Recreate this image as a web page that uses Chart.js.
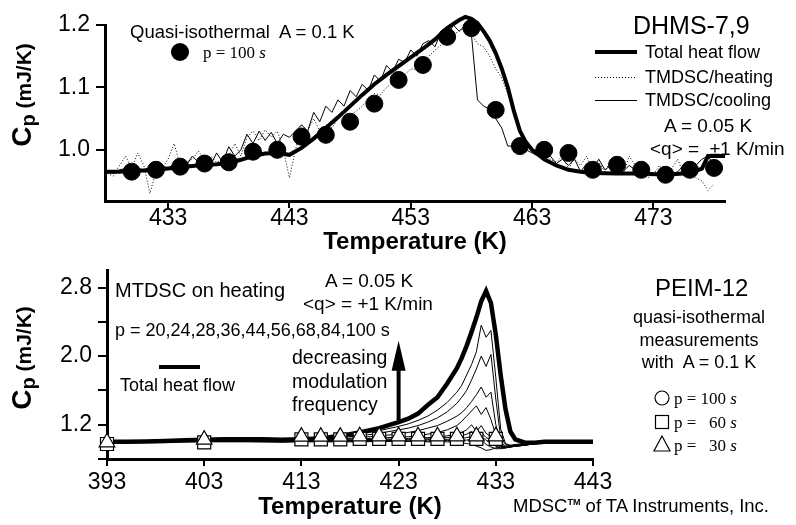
<!DOCTYPE html>
<html>
<head>
<meta charset="utf-8">
<title>Heat capacity of DHMS-7,9 and PEIM-12</title>
<script src="https://cdn.jsdelivr.net/npm/chart.js"></script>
<style>
  body { margin: 0; background: #fff; }
  #fig { position: relative; width: 796px; height: 525px; overflow: hidden; background: #fff;
         font-family: "Liberation Sans", Arial, sans-serif; color: #000; }
  #fig canvas { position: absolute; left: 0; }
  #top { top: 0; }
  #bot { top: 260px; }
  .t { position: absolute; white-space: nowrap; line-height: 1; transform: translateY(-50%); }
  .c { transform: translate(-50%, -50%); text-align: center; }
  .serif { font-family: "Liberation Serif", "Times New Roman", serif; }
  .ytitle { position: absolute; white-space: nowrap; font-weight: bold; line-height: 1;
            transform: translate(-50%, -50%) rotate(-90deg); }
  .ytitle .big { font-size: 28px; }
  .ytitle sub { font-size: 20px; vertical-align: -4px; }
  .ytitle .unit { font-size: 21px; }
</style>
</head>
<body>
<div id="fig">
  <canvas id="top" width="796" height="260"></canvas>
  <canvas id="bot" width="796" height="265"></canvas>

  <!-- top panel texts -->
  <div class="ytitle" style="left:23px; top:95px;"><span class="big">C</span><sub>p</sub><span class="unit"> (mJ/K)</span></div>
  <div class="t" style="left:130px; top:32px; font-size:18.5px;">Quasi-isothermal&nbsp; A = 0.1 K</div>
  <div class="t serif" style="left:203px; top:52px; font-size:17px;">p = 100 <i>s</i></div>
  <div class="t" style="left:633px; top:25px; font-size:25px;">DHMS-7,9</div>
  <div class="t" style="left:645px; top:52px; font-size:18px;">Total heat flow</div>
  <div class="t" style="left:645px; top:77px; font-size:18px;">TMDSC/heating</div>
  <div class="t" style="left:645px; top:100px; font-size:18px;">TMDSC/cooling</div>
  <div class="t" style="left:664px; top:125px; font-size:19px;">A = 0.05 K</div>
  <div class="t" style="left:650px; top:148px; font-size:19px;">&lt;q&gt; = &nbsp;±1 K/min</div>

  <!-- bottom panel texts -->
  <div class="ytitle" style="left:23px; top:358px;"><span class="big">C</span><sub>p</sub><span class="unit"> (mJ/K)</span></div>
  <div class="t" style="left:115px; top:290px; font-size:20px;">MTDSC on heating</div>
  <div class="t" style="left:325px; top:280px; font-size:19px;">A = 0.05 K</div>
  <div class="t" style="left:303px; top:303px; font-size:19px;">&lt;q&gt; = +1 K/min</div>
  <div class="t" style="left:115px; top:330px; font-size:18px;">p = 20,24,28,36,44,56,68,84,100 s</div>
  <div class="t" style="left:292px; top:381px; font-size:19.5px; line-height:23.5px;">decreasing<br>modulation<br>frequency</div>
  <div class="t" style="left:120px; top:385px; font-size:18px;">Total heat flow</div>
  <div class="t" style="left:655px; top:288px; font-size:24px;">PEIM-12</div>
  <div class="t c" style="left:699px; top:340px; font-size:18px; line-height:22.5px;">quasi-isothermal<br>measurements<br>with&nbsp; A = 0.1 K</div>
  <div class="t serif" style="left:674px; top:398px; font-size:17px;">p = 100 <i>s</i></div>
  <div class="t serif" style="left:674px; top:422px; font-size:17px;">p = &nbsp;&nbsp;60 <i>s</i></div>
  <div class="t serif" style="left:674px; top:445px; font-size:17px;">p = &nbsp;&nbsp;30 <i>s</i></div>
  <div class="t" style="left:513px; top:506px; font-size:18.5px;">MDSC<sup style="font-size:9px; font-weight:bold;">TM</sup> of TA Instruments, Inc.</div>
</div>

<script>
// ---- top panel: DHMS-7,9 ----
const topTemp = [
  428, 428.5, 429, 429.5, 430, 430.5, 431, 431.5, 432, 432.5,
  433, 433.5, 434, 434.5, 435, 435.5, 436, 436.5, 437, 437.5,
  438, 438.5, 439, 439.5, 440, 440.5, 441, 441.5, 442, 442.5,
  443, 443.5, 444, 444.5, 445, 445.5, 446, 446.5, 447, 447.5,
  448, 448.5, 449, 449.5, 450, 450.5, 451, 451.5, 452, 452.5,
  453, 453.5, 454, 454.5, 455, 455.5, 456, 456.5, 457, 457.5,
  458, 458.5, 459, 459.5, 460, 460.5, 461, 461.5, 462, 462.5,
  463, 463.5, 464, 464.5, 465, 465.5, 466, 466.5, 467, 467.5,
  468, 468.5, 469, 469.5, 470, 470.5, 471, 471.5, 472, 472.5,
  473, 473.5, 474, 474.5, 475, 475.5, 476, 476.5, 477, 477.5,
  478
];

const heatingCp = [
  0.962, 0.958, 0.975, 0.990, 0.970, 0.995, 0.975, 0.930, 0.965, 0.970,
  0.985, 1.010, 0.975, 0.980, 0.985, 0.998, 0.985, 0.990, 0.980, 0.985,
  0.990, 1.010, 0.990, 1.020, 1.030, 1.015, 1.032, 1.020, 1.030, 1.000,
  0.955, 1.000, 1.040, 1.030, 1.050, 1.030, 1.040, 1.035, 1.050, 1.060,
  1.055, 1.062, 1.070, 1.082, 1.090, 1.088, 1.100, 1.108, 1.115, 1.120,
  1.130, 1.128, 1.140, 1.150, 1.160, 1.168, 1.175, 1.185, 1.190, 1.195,
  1.185, 1.170, 1.165, 1.150, 1.130, 1.115, 1.090, 1.070, 1.035, 1.015,
  1.000, 0.995, 0.990, 0.985, 0.980, 0.990, 0.970, 0.985, 0.975, 0.990,
  0.960, 0.980, 0.965, 0.985, 0.970, 0.960, 0.990, 0.975, 0.965, 0.955,
  0.960, 0.975, 0.960, 0.970, 0.985, 0.960, 0.970, 0.955, 0.950, 0.935,
  0.945
];

const coolingCp = [
  0.965, 0.962, 0.968, 0.970, 0.965, 0.970, 0.968, 0.972, 0.965, 0.975,
  0.970, 0.978, 0.980, 0.975, 0.990, 0.980, 0.985, 0.975, 0.995, 0.980,
  1.005, 0.990, 1.000, 1.025, 1.010, 1.030, 1.015, 1.028, 1.010, 1.025,
  1.020, 1.030, 1.040, 1.030, 1.060, 1.045, 1.070, 1.060, 1.080, 1.070,
  1.095, 1.085, 1.105, 1.095, 1.120, 1.110, 1.135, 1.125, 1.145, 1.140,
  1.160, 1.150, 1.170, 1.175, 1.165, 1.190, 1.180, 1.200, 1.190, 1.200,
  1.185, 1.080, 1.070, 1.065, 1.050, 1.035, 1.006, 1.006, 1.003, 1.000,
  0.995, 0.990, 0.985, 0.990, 0.978, 0.985, 0.975, 0.985, 0.965, 0.978,
  0.970, 0.985, 0.968, 0.975, 0.985, 0.965, 0.975, 0.968, 0.980, 0.962,
  0.960, 0.965, 0.970, 0.960, 0.965, 0.975, 0.968, 0.975, 0.985, 0.990,
  0.975
];

const totalTemp = [
  427.8, 429, 430, 431, 432, 433, 434, 435, 436, 437,
  438, 439, 440, 441, 442, 443, 444, 445, 446, 447,
  448, 449, 450, 451, 452, 453, 454, 455, 456, 457,
  457.5, 458, 458.5, 459, 459.5, 460, 460.5, 461, 461.5, 462,
  462.5, 463, 464, 465, 466, 467, 468, 470, 472, 474,
  476, 477, 477.5, 478.9
];
const totalCp = [
  0.965, 0.965, 0.966, 0.967, 0.968, 0.970, 0.972, 0.974, 0.976, 0.977,
  0.979, 0.984, 0.990, 0.994, 0.995, 0.992, 1.003, 1.018, 1.035, 1.052,
  1.070, 1.088, 1.105, 1.120, 1.134, 1.148, 1.162, 1.177, 1.195, 1.208,
  1.213, 1.210, 1.203, 1.190, 1.175, 1.155, 1.130, 1.100, 1.062, 1.030,
  1.012, 1.000, 0.985, 0.975, 0.968, 0.965, 0.963, 0.962, 0.962, 0.960,
  0.963, 0.970, 0.990, 0.990
];

// quasi-isothermal, p = 100 s
const qiTemp = [430, 432, 434, 436, 438, 440, 442, 444, 446, 448, 450, 452, 454,
                456, 458, 460, 462, 464, 466, 468, 470, 472, 474, 476, 478];
const qiCp = [0.965, 0.968, 0.973, 0.978, 0.980, 0.997, 1.000, 1.021, 1.024, 1.045, 1.074, 1.112, 1.136,
              1.181, 1.195, 1.064, 1.006, 1.000, 0.995, 0.968, 0.976, 0.968, 0.960, 0.968, 0.971];

const topTicksX = [433, 443, 453, 463, 473];
const topTicksY = [1.0, 1.1, 1.2];

// ---- bottom panel: PEIM-12 ----
const botTemp = [
  393, 395, 397, 399, 401, 403, 405, 407, 409, 411, 413,
  415, 417, 419, 421, 423,
  424, 425, 426, 427, 428, 429,
  429.5, 430, 430.5, 431, 431.5, 432, 432.5, 433, 433.5, 434, 434.5, 435,
  436, 437, 438, 440, 443
];
const botTotalCp = [
  1.00, 1.00, 1.005, 1.01, 1.02, 1.025, 1.03, 1.03, 1.03, 1.025, 1.03,
  1.04, 1.07, 1.11, 1.16, 1.23,
  1.27, 1.33, 1.43, 1.52, 1.68, 1.86,
  1.98, 2.12, 2.28, 2.45, 2.64, 2.76, 2.62, 2.25, 1.78, 1.38, 1.12, 1.03,
  0.99, 0.99, 1.00, 1.00, 1.00
];

// MTDSC on heating, one curve per period p (s)
const mtdsc100 = [
  1.00, 1.00, 1.00, 1.01, 1.02, 1.03, 1.03, 1.03, 1.02, 1.02, 1.03,
  1.04, 1.06, 1.09, 1.13, 1.18,
  1.21, 1.25, 1.30, 1.37, 1.46, 1.58,
  1.66, 1.78, 1.90, 2.05, 2.36, 2.22, 2.30, 1.75, 1.15, 0.98, 0.96, 0.96,
  0.97, 0.99, 1.00, 1.00, 1.00
];
const mtdsc84 = [
  1.00, 1.00, 1.005, 1.01, 1.02, 1.025, 1.03, 1.03, 1.02, 1.02, 1.025,
  1.03, 1.05, 1.07, 1.10, 1.14,
  1.16, 1.19, 1.23, 1.28, 1.35, 1.45,
  1.52, 1.60, 1.72, 1.85, 2.00, 1.88, 2.02, 1.50, 1.05, 0.97, 0.95, 0.95,
  0.96, 0.98, 1.00, 1.00, 1.00
];
const mtdsc68 = [
  1.00, 0.995, 1.00, 1.005, 1.015, 1.02, 1.025, 1.025, 1.02, 1.015, 1.02,
  1.025, 1.035, 1.05, 1.07, 1.09,
  1.11, 1.13, 1.16, 1.19, 1.24, 1.30,
  1.34, 1.40, 1.47, 1.55, 1.64, 1.52, 1.58, 1.20, 1.00, 0.95, 0.94, 0.95,
  0.96, 0.98, 0.99, 1.00, 1.00
];
const mtdsc56 = [
  1.00, 1.00, 1.00, 1.005, 1.01, 1.02, 1.02, 1.02, 1.015, 1.015, 1.02,
  1.02, 1.03, 1.035, 1.045, 1.055,
  1.06, 1.07, 1.09, 1.11, 1.14, 1.19,
  1.24, 1.30, 1.36, 1.42, 1.32, 1.40, 1.26, 1.08, 0.97, 0.94, 0.94, 0.95,
  0.96, 0.98, 0.99, 1.00, 1.00
];
const mtdsc44 = [
  0.995, 1.00, 1.00, 1.00, 1.01, 1.015, 1.02, 1.02, 1.015, 1.01, 1.015,
  1.015, 1.02, 1.025, 1.03, 1.035,
  1.04, 1.045, 1.05, 1.055, 1.07, 1.09,
  1.11, 1.14, 1.20, 1.12, 1.19, 1.10, 1.06, 0.99, 0.95, 0.93, 0.94, 0.95,
  0.96, 0.98, 0.99, 1.00, 1.00
];
const mtdsc36 = [
  1.00, 1.00, 0.995, 1.00, 1.005, 1.01, 1.015, 1.015, 1.01, 1.01, 1.01,
  1.01, 1.015, 1.02, 1.02, 1.025,
  1.03, 1.03, 1.035, 1.04, 1.05, 1.06,
  1.07, 1.09, 1.12, 1.08, 1.11, 1.05, 1.02, 0.97, 0.94, 0.93, 0.94, 0.95,
  0.97, 0.98, 0.99, 1.00, 1.00
];
const mtdsc28 = [
  0.995, 0.995, 1.00, 1.00, 1.005, 1.01, 1.01, 1.01, 1.005, 1.005, 1.01,
  1.01, 1.01, 1.015, 1.015, 1.02,
  1.02, 1.02, 1.025, 1.025, 1.03, 1.035,
  1.04, 1.05, 1.06, 1.04, 1.06, 1.02, 0.98, 0.95, 0.93, 0.93, 0.95, 0.96,
  0.97, 0.98, 0.99, 1.00, 1.00
];
const mtdsc24 = [
  0.995, 0.995, 0.995, 1.00, 1.00, 1.005, 1.005, 1.005, 1.00, 1.00, 1.005,
  1.005, 1.005, 1.01, 1.01, 1.01,
  1.01, 1.01, 1.01, 1.015, 1.015, 1.02,
  1.02, 1.02, 1.03, 1.00, 1.02, 0.97, 0.94, 0.92, 0.92, 0.93, 0.95, 0.96,
  0.97, 0.98, 0.99, 1.00, 1.00
];
const mtdsc20 = [
  0.99, 0.99, 0.995, 0.995, 1.00, 1.00, 1.00, 1.00, 1.00, 0.995, 1.00,
  1.00, 1.00, 1.00, 1.005, 1.005,
  1.005, 1.005, 1.00, 1.00, 1.00, 0.995,
  0.99, 0.98, 0.97, 0.95, 0.93, 0.90, 0.91, 0.93, 0.94, 0.95, 0.96, 0.97,
  0.98, 0.99, 0.99, 1.00, 1.00
];
const mtdscCurves = [mtdsc20, mtdsc24, mtdsc28, mtdsc36, mtdsc44, mtdsc56, mtdsc68, mtdsc84, mtdsc100];

// quasi-isothermal measurements, A = 0.1 K
const qiBotTemp = [393, 403, 413, 415, 417, 419, 421, 423, 425, 427, 429, 431, 433];
const qi100Cp = [0.975, 0.995, 1.03, 1.03, 1.03, 1.035, 1.035, 1.035, 1.035, 1.035, 1.035, 1.035, 1.035];
const qi60Cp  = [0.975, 0.995, 1.03, 1.03, 1.03, 1.035, 1.035, 1.035, 1.035, 1.035, 1.035, 1.035, 1.035];
const qi30Cp  = [0.995, 1.025, 1.06, 1.06, 1.06, 1.065, 1.065, 1.065, 1.065, 1.065, 1.065, 1.065, 1.065];

const botTicksX = [393, 403, 413, 423, 433, 443];
const botTicksY = [0.8, 1.2, 1.6, 2.0, 2.4, 2.8];
const botLabelsY = [1.2, 2.0, 2.8];

// ---- helpers ----
const FONT = 'Liberation Sans';

function pts(xs, ys) {
  return xs.map((x, i) => ({x: x, y: ys[i]}));
}

function xAxis(min, max, ticks, height, labelPad) {
  return {
    type: 'linear', min: min, max: max,
    afterBuildTicks: s => { s.ticks = ticks.map(v => ({value: v})); },
    afterFit: s => { s.height = height; s.paddingLeft = 0; s.paddingRight = 0; },
    border: {display: true, color: '#000', width: 3},
    grid: {drawOnChartArea: false, color: '#000', lineWidth: 2, tickLength: 7},
    ticks: {color: '#000', font: {family: FONT, size: 23}, padding: labelPad, maxRotation: 0, autoSkip: false,
            callback: v => String(v)},
    title: {display: true, text: 'Temperature (K)', color: '#000',
            font: {family: FONT, size: 24, weight: 'bold'}, padding: {top: 0, bottom: 3}}
  };
}

function yAxis(min, max, ticks, labels, width) {
  return {
    type: 'linear', min: min, max: max,
    afterBuildTicks: s => { s.ticks = ticks.map(v => ({value: v})); },
    afterFit: s => { s.width = width; s.paddingTop = 0; s.paddingBottom = 0; },
    border: {display: true, color: '#000', width: 3},
    grid: {drawOnChartArea: false, color: '#000', lineWidth: 2, tickLength: 9},
    ticks: {color: '#000', font: {family: FONT, size: 23}, padding: 6, autoSkip: false,
            callback: v => labels.includes(v) ? v.toFixed(1) : ''}
  };
}

function line(ctx, x1, y1, x2, y2) {
  ctx.beginPath();
  ctx.moveTo(x1, y1);
  ctx.lineTo(x2, y2);
  ctx.stroke();
}

// legend samples for the top panel
const topDecor = {
  id: 'topDecor',
  afterDraw(chart) {
    const ctx = chart.ctx;
    ctx.save();
    ctx.strokeStyle = '#000';
    ctx.fillStyle = '#000';
    ctx.lineWidth = 4;
    line(ctx, 595, 52, 637, 52);
    ctx.lineWidth = 1;
    ctx.setLineDash([1, 2]);
    line(ctx, 595, 77.5, 637, 77.5);
    ctx.setLineDash([]);
    line(ctx, 595, 100.5, 637, 100.5);
    ctx.beginPath();
    ctx.arc(180, 52, 9, 0, Math.PI * 2);
    ctx.fill();
    ctx.restore();
  }
};

// legend samples and arrow for the bottom panel
const botDecor = {
  id: 'botDecor',
  afterDraw(chart) {
    const ctx = chart.ctx;
    const xs = chart.scales.x, ys = chart.scales.y;
    ctx.save();
    ctx.strokeStyle = '#000';
    ctx.fillStyle = '#000';
    ctx.lineWidth = 4;
    line(ctx, 159, 107, 200, 107);

    // arrow: decreasing modulation frequency
    const ax = xs.getPixelForValue(423);
    const yTip = ys.getPixelForValue(2.18);
    const yEnd = ys.getPixelForValue(1.25);
    ctx.lineWidth = 4;
    line(ctx, ax, yEnd, ax, yTip + 20);
    ctx.beginPath();
    ctx.moveTo(ax, yTip);
    ctx.lineTo(ax - 7, yTip + 30);
    ctx.lineTo(ax + 7, yTip + 30);
    ctx.closePath();
    ctx.fill();

    // open markers
    ctx.lineWidth = 1.2;
    ctx.fillStyle = '#fff';
    ctx.beginPath();
    ctx.arc(662, 138, 7, 0, Math.PI * 2);
    ctx.stroke();
    ctx.strokeRect(655.5, 155.5, 13, 13);
    ctx.beginPath();
    ctx.moveTo(662, 176);
    ctx.lineTo(670, 191);
    ctx.lineTo(654, 191);
    ctx.closePath();
    ctx.stroke();
    ctx.restore();
  }
};

const common = {
  responsive: false,
  animation: false,
  plugins: {legend: {display: false}, tooltip: {enabled: false}}
};

// ---- top chart ----
new Chart(document.getElementById('top'), {
  type: 'scatter',
  data: {
    datasets: [
      {label: 'Quasi-isothermal p = 100 s', data: pts(qiTemp, qiCp), order: 0, clip: false,
       pointStyle: 'circle', pointRadius: 8.5, backgroundColor: '#000', borderColor: '#000', showLine: false},
      {label: 'Total heat flow', data: pts(totalTemp, totalCp), order: 1, clip: false,
       showLine: true, borderColor: '#000', borderWidth: 4, pointRadius: 0},
      {label: 'TMDSC/cooling', data: pts(topTemp, coolingCp), order: 2,
       showLine: true, borderColor: '#000', borderWidth: 1, pointRadius: 0},
      {label: 'TMDSC/heating', data: pts(topTemp, heatingCp), order: 3,
       showLine: true, borderColor: '#000', borderWidth: 1, borderDash: [1, 2], pointRadius: 0}
    ]
  },
  options: Object.assign({}, common, {
    layout: {padding: {left: 0, right: 71, top: 25, bottom: 0}},
    scales: {
      x: xAxis(427.8, 478.9, topTicksX, 59, -3),
      y: yAxis(0.918, 1.2, topTicksY, topTicksY, 105)
    }
  }),
  plugins: [topDecor]
});

// ---- bottom chart ----
const botSets = [
  {label: 'p = 30 s', data: pts(qiBotTemp, qi30Cp), order: 0, clip: false, showLine: false,
   pointStyle: 'triangle', pointRadius: 9, backgroundColor: '#fff', borderColor: '#000', borderWidth: 1.2},
  {label: 'p = 60 s', data: pts(qiBotTemp, qi60Cp), order: 1, clip: false, showLine: false,
   pointStyle: 'rect', pointRadius: 9.2, backgroundColor: '#fff', borderColor: '#000', borderWidth: 1.2},
  {label: 'p = 100 s', data: pts(qiBotTemp, qi100Cp), order: 2, clip: false, showLine: false,
   pointStyle: 'circle', pointRadius: 6, backgroundColor: '#fff', borderColor: '#000', borderWidth: 1.2},
  {label: 'Total heat flow', data: pts(botTemp, botTotalCp), order: 3, clip: false,
   showLine: true, borderColor: '#000', borderWidth: 4.5, pointRadius: 0}
];
mtdscCurves.forEach((cp, i) => {
  botSets.push({label: 'MTDSC ' + i, data: pts(botTemp, cp), order: 4,
                showLine: true, borderColor: '#000', borderWidth: 1, pointRadius: 0});
});

new Chart(document.getElementById('bot'), {
  type: 'scatter',
  data: {datasets: botSets},
  options: Object.assign({}, common, {
    layout: {padding: {left: 0, right: 203, top: 1, bottom: 0}},
    scales: {
      x: xAxis(393, 443, botTicksX, 66, 3),
      y: yAxis(0.8, 3.0, botTicksY, botLabelsY, 107)
    }
  }),
  plugins: [botDecor]
});
</script>
</body>
</html>
